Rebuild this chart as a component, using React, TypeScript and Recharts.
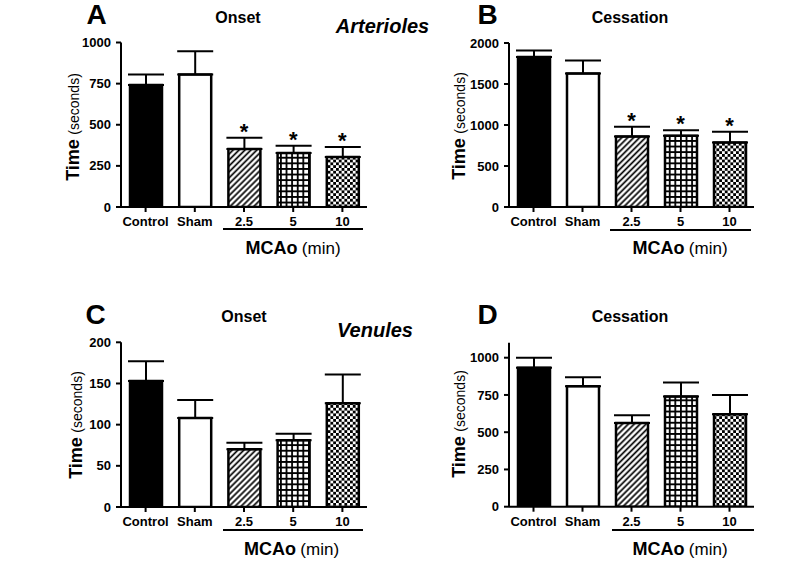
import React from 'react';
import { Bar, Cell, ComposedChart, ErrorBar, Scatter, XAxis, YAxis } from 'recharts';

// groups on the x axis
const categories = ['Control', 'Sham', '2.5', '5', '10'];
const fillKinds = ['solid', 'white', 'hatch', 'grid', 'check'];

// A - arterioles, onset
const arterioleOnsetMean = [741, 806, 352, 328, 304];
const arterioleOnsetSem = [65, 141, 69, 44, 60];
// B - arterioles, cessation
const arterioleCessationMean = [1829, 1629, 861, 869, 788];
const arterioleCessationSem = [81, 159, 119, 66, 130];
// C - venules, onset
const venuleOnsetMean = [153, 108, 70, 81, 126];
const venuleOnsetSem = [24, 22, 8, 8, 35];
// D - venules, cessation
const venuleCessationMean = [933, 808, 561, 740, 620];
const venuleCessationSem = [67, 60, 52, 94, 129];

const arterioleSignificant = [false, false, true, true, true];
const venuleSignificant = [false, false, false, false, false];

const ticksA = [0, 250, 500, 750, 1000];
const ticksB = [0, 500, 1000, 1500, 2000];
const ticksC = [0, 50, 100, 150, 200];
const ticksD = [0, 250, 500, 750, 1000];

const FONT = '"Liberation Sans", Arial, Helvetica, sans-serif';

const buildRows = (mean: number[], sem: number[], sig: boolean[]) =>
    categories.map((cat, i) => ({
        cat,
        mean: mean[i],
        err: [0, sem[i]],
        star: sig[i] ? mean[i] + sem[i] : null,
    }));

const Patterns = ({ id }: { id: string }) => (
    <defs>
        <pattern id={`hatch-${id}`} width={4.2} height={4.2} patternUnits="userSpaceOnUse" patternTransform="rotate(45)">
            <rect width={4.2} height={4.2} fill="#fff" />
            <line x1={2.1} y1={0} x2={2.1} y2={4.2} stroke="#000" strokeWidth={1.7} />
        </pattern>
        <pattern id={`grid-${id}`} width={5.6} height={5.6} patternUnits="userSpaceOnUse">
            <rect width={5.6} height={5.6} fill="#fff" />
            <path d="M0 0.9H5.6M0.9 0V5.6" stroke="#000" strokeWidth={1.8} />
        </pattern>
        <pattern id={`check-${id}`} width={5.6} height={5.6} patternUnits="userSpaceOnUse">
            <rect width={5.6} height={5.6} fill="#fff" />
            <rect width={2.8} height={2.8} fill="#000" />
            <rect x={2.8} y={2.8} width={2.8} height={2.8} fill="#000" />
        </pattern>
    </defs>
);

const fillFor = (kind: string, id: string) => {
    if (kind === 'solid') return '#000';
    if (kind === 'white') return '#fff';
    return `url(#${kind}-${id})`;
};

const Star = (props: any) => {
    const { cx, cy, payload } = props;
    if (!payload || payload.star == null || cy == null || isNaN(cy)) return <g />;
    return (
        <text x={cx} y={cy + 1} textAnchor="middle" fontFamily={FONT} fontWeight="bold" fontSize={22} fill="#000">
            *
        </text>
    );
};

interface PanelProps {
    id: string;
    left: number;
    top: number;
    margin: { top: number; right: number; bottom: number; left: number };
    rows: any[];
    domain: [number, number];
    ticks: number[];
}

const Panel: React.FC<PanelProps> = ({ id, left, top, margin, rows, domain, ticks }) => (
    <div style={{ position: 'absolute', left, top }}>
        <ComposedChart width={400} height={290} data={rows} margin={margin}>
            <Patterns id={id} />
            <XAxis
                dataKey="cat"
                type="category"
                interval={0}
                height={30}
                tickSize={5}
                tickMargin={5}
                axisLine={{ stroke: '#000', strokeWidth: 2 }}
                tickLine={{ stroke: '#000', strokeWidth: 2 }}
                tick={{ fill: '#000', fontSize: 13, fontWeight: 'bold', fontFamily: FONT }}
            />
            <YAxis
                width={60}
                domain={domain}
                ticks={ticks}
                interval={0}
                tickSize={5}
                tickMargin={5}
                allowDataOverflow
                axisLine={{ stroke: '#000', strokeWidth: 2 }}
                tickLine={{ stroke: '#000', strokeWidth: 2 }}
                tick={{ fill: '#000', fontSize: 13, fontWeight: 'bold', fontFamily: FONT }}
            />
            <Bar dataKey="mean" barSize={32} stroke="#000" strokeWidth={2.5} isAnimationActive={false}>
                {rows.map((r, i) => (
                    <Cell key={r.cat} fill={fillFor(fillKinds[i], id)} stroke="#000" strokeWidth={2.5} />
                ))}
                <ErrorBar dataKey="err" direction="y" width={18} stroke="#000" strokeWidth={2} />
            </Bar>
            <Scatter dataKey="star" shape={Star} isAnimationActive={false} />
        </ComposedChart>
    </div>
);

const Txt = ({ x, y, size, bold, italic, rotate, children }: any) => (
    <div
        style={{
            position: 'absolute',
            left: x,
            top: y,
            transform: `translate(-50%, -50%)${rotate ? ' rotate(-90deg)' : ''}`,
            fontSize: size,
            fontWeight: bold ? 'bold' : 'normal',
            fontStyle: italic ? 'italic' : 'normal',
            lineHeight: 1,
            whiteSpace: 'nowrap',
            color: '#000',
        }}
    >
        {children}
    </div>
);

const TimeLabel = ({ x, y }: { x: number; y: number }) => (
    <Txt x={x} y={y} rotate>
        <span style={{ fontWeight: 'bold', fontSize: 18 }}>Time</span>{' '}
        <span style={{ fontSize: 14 }}>(seconds)</span>
    </Txt>
);

const McaoLabel = ({ x, y }: { x: number; y: number }) => (
    <Txt x={x} y={y}>
        <span style={{ fontWeight: 'bold', fontSize: 18 }}>MCAo</span>{' '}
        <span style={{ fontSize: 17 }}>(min)</span>
    </Txt>
);

const Rule = ({ x1, x2, y }: { x1: number; x2: number; y: number }) => (
    <div style={{ position: 'absolute', left: x1, top: y - 1, width: x2 - x1, height: 2, background: '#000' }} />
);

export default function App() {
    return (
        <div
            style={{
                position: 'absolute',
                left: 0,
                top: 0,
                width: 800,
                height: 583,
                background: '#fff',
                fontFamily: FONT,
                overflow: 'hidden',
            }}
        >
            <Panel
                id="a"
                left={0}
                top={0}
                margin={{ top: 42.5, right: 33, bottom: 53, left: 61 }}
                rows={buildRows(arterioleOnsetMean, arterioleOnsetSem, arterioleSignificant)}
                domain={[0, 1000]}
                ticks={ticksA}
            />
            <Panel
                id="b"
                left={400}
                top={0}
                margin={{ top: 43, right: 46, bottom: 53, left: 49 }}
                rows={buildRows(arterioleCessationMean, arterioleCessationSem, arterioleSignificant)}
                domain={[0, 2000]}
                ticks={ticksB}
            />
            <Panel
                id="c"
                left={0}
                top={293}
                margin={{ top: 49.3, right: 33, bottom: 46, left: 61 }}
                rows={buildRows(venuleOnsetMean, venuleOnsetSem, venuleSignificant)}
                domain={[0, 200]}
                ticks={ticksC}
            />
            <Panel
                id="d"
                left={400}
                top={293}
                margin={{ top: 49.8, right: 46, bottom: 46.3, left: 49 }}
                rows={buildRows(venuleCessationMean, venuleCessationSem, venuleSignificant)}
                domain={[0, 1100]}
                ticks={ticksD}
            />

            <Txt x={96.5} y={14.5} size={28} bold>A</Txt>
            <Txt x={487.5} y={14.5} size={28} bold>B</Txt>
            <Txt x={95.5} y={314.5} size={28} bold>C</Txt>
            <Txt x={487.5} y={314.5} size={28} bold>D</Txt>

            <Txt x={238} y={17.5} size={16} bold>Onset</Txt>
            <Txt x={630} y={18} size={16} bold>Cessation</Txt>
            <Txt x={244} y={317} size={16} bold>Onset</Txt>
            <Txt x={630} y={317} size={16} bold>Cessation</Txt>

            <Txt x={382.5} y={25.5} size={20} bold italic>Arterioles</Txt>
            <Txt x={375} y={329.5} size={20} bold italic>Venules</Txt>

            <TimeLabel x={73} y={127} />
            <TimeLabel x={459} y={126} />
            <TimeLabel x={76} y={425} />
            <TimeLabel x={459} y={424} />

            <Rule x1={222.5} x2={363} y={229.3} />
            <Rule x1={610} x2={751} y={230} />
            <Rule x1={222.5} x2={363} y={530} />
            <Rule x1={612} x2={754} y={530} />

            <McaoLabel x={293} y={248} />
            <McaoLabel x={680} y={248} />
            <McaoLabel x={291.5} y={549} />
            <McaoLabel x={680} y={549} />
        </div>
    );
}
